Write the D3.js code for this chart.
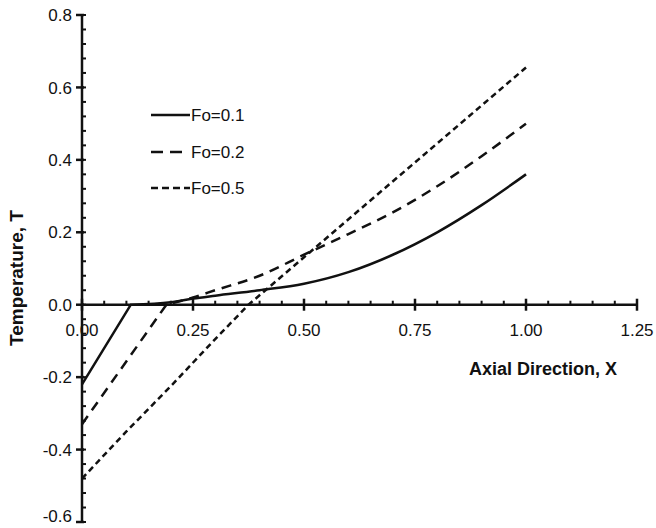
<!DOCTYPE html>
<html>
<head>
<meta charset="utf-8">
<script src="https://cdn.jsdelivr.net/npm/d3@7.9.0/dist/d3.min.js"></script>
<style>
  body { margin: 0; background: #fff; }
  svg { display: block; font-family: "Liberation Sans", Arial, sans-serif; }
</style>
</head>
<body>
<svg id="chart" width="656" height="528"></svg>
<script>
// values
const seriesNames = ['Fo=0.1', 'Fo=0.2', 'Fo=0.5'];
const fo1X = [0, 0.11, 0.2, 0.25, 0.3, 0.4, 0.5, 0.6, 0.7, 0.8, 0.9, 1.0];
const fo1T = [-0.22, 0, 0.007, 0.017, 0.025, 0.04, 0.058, 0.09, 0.138, 0.2, 0.275, 0.36];
const fo2X = [0, 0.19, 0.25, 0.3, 0.4, 0.5, 0.6, 0.7, 0.8, 0.9, 1.0];
const fo2T = [-0.33, 0, 0.02, 0.04, 0.08, 0.138, 0.195, 0.255, 0.327, 0.41, 0.50];
const fo5X = [0, 0.1, 0.2, 0.3, 0.375, 0.5, 0.75, 1.0];
const fo5T = [-0.48, -0.35, -0.225, -0.095, 0, 0.131, 0.393, 0.655];
const xTicks = [0, 0.25, 0.5, 0.75, 1.0, 1.25];
const yTicks = [-0.6, -0.4, -0.2, 0, 0.2, 0.4, 0.6, 0.8];

const svg = d3.select('#chart');
const x = d3.scaleLinear().domain([0, 1.25]).range([82, 637]);
const y = d3.scaleLinear().domain([-0.6, 0.8]).range([522, 15]);
const ink = '#111';
const fmtY = v => d3.format('.1f')(v).replace('\u2212', '-');

// y axis
svg.append('line')
  .attr('x1', x(0)).attr('x2', x(0))
  .attr('y1', y(0.8)).attr('y2', y(-0.6))
  .attr('stroke', ink).attr('stroke-width', 2.5);
// minor y ticks every 0.04
d3.range(-0.6, 0.8001, 0.04).forEach(v => {
  svg.append('line')
    .attr('x1', x(0)).attr('x2', x(0) + 4)
    .attr('y1', y(v)).attr('y2', y(v))
    .attr('stroke', ink).attr('stroke-width', 2);
});
yTicks.forEach(v => {
  svg.append('line')
    .attr('x1', x(0) - 6).attr('x2', x(0) + 2)
    .attr('y1', y(v)).attr('y2', y(v))
    .attr('stroke', ink).attr('stroke-width', 2.5);
  svg.append('text')
    .attr('x', 72).attr('y', Math.min(y(v), 516))
    .attr('dy', '0.36em')
    .attr('text-anchor', 'end')
    .attr('font-size', 17)
    .attr('fill', ink)
    .text(fmtY(v));
});

// x axis at T = 0
svg.append('line')
  .attr('x1', x(0)).attr('x2', x(1.25))
  .attr('y1', y(0)).attr('y2', y(0))
  .attr('stroke', ink).attr('stroke-width', 2.5);
d3.range(0, 1.2501, 0.05).forEach(v => {
  svg.append('line')
    .attr('x1', x(v)).attr('x2', x(v))
    .attr('y1', y(0) - 4).attr('y2', y(0))
    .attr('stroke', ink).attr('stroke-width', 2);
});
xTicks.forEach(v => {
  svg.append('line')
    .attr('x1', x(v)).attr('x2', x(v))
    .attr('y1', y(0) - 6).attr('y2', y(0) + 6)
    .attr('stroke', ink).attr('stroke-width', 2.5);
  svg.append('text')
    .attr('x', x(v)).attr('y', 336)
    .attr('text-anchor', 'middle')
    .attr('font-size', 17)
    .attr('fill', ink)
    .text(d3.format('.2f')(v));
});

// axis titles
svg.append('text')
  .attr('x', 543).attr('y', 375)
  .attr('text-anchor', 'middle')
  .attr('font-size', 18).attr('font-weight', 'bold')
  .attr('fill', ink)
  .text('Axial Direction, X');
svg.append('text')
  .attr('transform', 'translate(23,278) rotate(-90)')
  .attr('text-anchor', 'middle')
  .attr('font-size', 19).attr('font-weight', 'bold')
  .attr('fill', ink)
  .text('Temperature, T');

// curves: straight part below zero, smooth part after the zero crossing
const straight = d3.line().x(d => x(d[0])).y(d => y(d[1]));
const smooth = d3.line().x(d => x(d[0])).y(d => y(d[1])).curve(d3.curveMonotoneX);
const series = [
  { name: seriesNames[0], xs: fo1X, ts: fo1T, dash: null },
  { name: seriesNames[1], xs: fo2X, ts: fo2T, dash: '10,7' },
  { name: seriesNames[2], xs: fo5X, ts: fo5T, dash: '6,4' }
];
series.forEach(s => {
  const pts = d3.zip(s.xs, s.ts);
  const k = s.ts.indexOf(0);
  const d = straight(pts.slice(0, k + 1)) + smooth(pts.slice(k)).replace(/^M[^LC]*/, '');
  svg.append('path')
    .attr('d', d)
    .attr('fill', 'none')
    .attr('stroke', ink)
    .attr('stroke-width', 2.5)
    .attr('stroke-dasharray', s.dash);
});

// legend
const legendY = [115, 152, 188];
const legendEnd = [190, 182, 190];
const legendDash = [null, '12,7', '7,4'];
series.forEach((s, i) => {
  svg.append('line')
    .attr('x1', 151).attr('x2', legendEnd[i])
    .attr('y1', legendY[i]).attr('y2', legendY[i])
    .attr('stroke', ink).attr('stroke-width', 2.5)
    .attr('stroke-dasharray', legendDash[i]);
  svg.append('text')
    .attr('x', 191).attr('y', legendY[i])
    .attr('dy', '0.36em')
    .attr('font-size', 17)
    .attr('fill', ink)
    .text(s.name);
});
</script>
</body>
</html>
